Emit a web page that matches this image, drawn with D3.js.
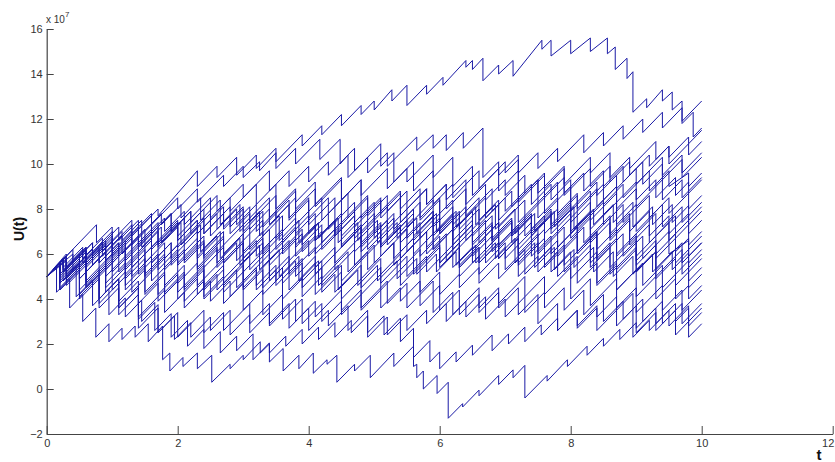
<!doctype html>
<html lang="en">
  <head>
    <meta charset="utf-8">
    <title>U(t) sample paths</title>
    <script src="https://d3js.org/d3.v7.min.js"></script>
    <style>
      body { margin: 0; background: #fff; }
      svg { display: block; font-family: "Liberation Sans", Arial, sans-serif; }
    </style>
  </head>

  <body>
    <svg width="835" height="462"></svg>

    <script>
      // every path starts at U(0) = 5 (x 10^7)
      var startValue = 5;

      // each path: t, value before claim, value after claim, ... (last triple = end point)
      var path01 = [0.4,6.2,5.6, 0.7,6.5,6.0, 1.1,7.2,6.6, 1.4,7.5,7.1, 1.7,8.0,7.7, 2.3,9.7,9.0, 2.6,9.9,9.4, 2.9,10.3,9.5, 3.2,10.4,9.8, 3.5,10.7,10.1, 3.9,11.3,10.8, 4.2,11.7,11.3, 4.5,12.2,11.7, 4.8,12.6,12.2, 5.0,12.8,12.4, 5.27,13.3,12.8, 5.5,13.5,12.6, 5.8,13.5,13.1, 6.05,13.85,13.5, 6.4,14.6,14.3, 6.5,14.6,14.2, 6.66,14.7,13.7, 6.9,14.4,14.0, 7.12,14.6,13.9, 7.56,15.5,15.1, 7.7,15.5,14.8, 8.0,15.5,14.9, 8.3,15.6,15.0, 8.56,15.6,14.9, 8.68,15.2,14.2, 8.86,14.7,13.8, 8.95,14.1,12.3, 9.16,12.9,12.5, 9.4,13.3,12.8, 9.55,13.2,12.4, 9.7,12.8,11.8, 9.87,12.3,11.2, 10.0,11.6,11.6];
      var path02 = [0.3,5.9,5.3, 0.6,6.2,5.8, 1.0,7.0,6.4, 1.3,7.3,6.9, 1.6,7.8,7.3, 2.0,8.5,8.0, 2.3,8.9,8.3, 2.7,9.5,9.0, 3.0,9.9,9.4, 3.25,10.1,9.7, 3.5,10.5,9.8, 3.8,10.7,10.0, 4.17,11.1,10.2, 4.48,11.1,10.0, 4.6,10.4,9.4, 4.9,10.3,9.6, 5.2,10.5,9.9, 5.65,11.2,10.6, 5.9,11.3,10.7, 6.1,11.3,10.6, 6.36,11.4,10.7, 6.66,11.6,9.4, 6.9,10.1,9.5, 7.2,10.4,9.6, 7.5,10.5,9.8, 7.8,10.7,10.1, 8.2,11.3,10.5, 8.5,11.4,10.8, 8.8,11.7,11.1, 9.1,12.0,11.4, 9.4,12.3,11.6, 9.7,12.5,11.9, 10.0,12.8,12.8];
      var path03 = [0.4,6.0,5.2, 0.8,6.3,5.6, 1.1,6.5,5.9, 1.5,7.1,6.6, 1.9,7.8,7.0, 2.2,7.9,7.4, 2.6,8.6,7.9, 3.0,9.1,8.5, 3.4,9.7,8.8, 3.7,9.7,9.0, 4.0,9.9,9.2, 4.3,10.1,9.5, 4.7,10.7,9.7, 5.1,10.9,9.9, 5.3,10.5,9.2, 5.6,10.1,8.8, 5.9,9.7,8.2, 6.2,9.1,8.5, 6.6,9.7,8.9, 7.0,10.1,9.6, 7.2,10.2,8.4, 7.5,9.3,8.7, 7.9,9.9,9.1, 8.3,10.3,9.6, 8.6,10.5,9.4, 8.9,10.3,9.8, 9.3,11.0,10.2, 9.5,10.8,10.0, 9.8,10.9,10.4, 10.0,11.0,11.0];
      var path04 = [0.3,5.8,5.1, 0.6,5.9,5.4, 1.0,6.6,5.8, 1.3,6.7,6.2, 1.7,7.4,6.5, 2.0,7.4,6.8, 2.4,8.0,6.9, 2.7,7.8,7.1, 3.0,8.0,7.3, 3.4,8.5,7.6, 3.8,8.8,8.0, 4.1,8.9,8.2, 4.5,9.4,8.4, 4.8,9.3,8.6, 5.2,9.8,8.9, 5.5,9.8,9.2, 5.9,10.4,9.4, 6.2,10.3,9.0, 6.5,9.9,8.6, 6.9,9.8,8.8, 7.2,9.7,8.3, 7.6,9.5,8.5, 7.9,9.4,8.6, 8.3,9.8,9.0, 8.6,9.9,9.2, 8.9,10.1,9.5, 9.2,10.4,9.9, 9.5,10.8,10.3, 9.8,11.2,10.9, 10.0,11.5,11.5];
      var path05 = [0.3,5.7,5.0, 0.7,6.2,5.5, 1.0,6.4,5.9, 1.4,7.1,6.4, 1.8,7.6,7.0, 2.1,7.9,7.3, 2.5,8.5,7.6, 2.8,8.5,7.9, 3.2,9.1,8.2, 3.5,9.1,8.0, 3.8,8.9,8.3, 4.1,9.2,8.1, 4.5,9.3,8.4, 4.8,9.3,7.6, 5.1,8.5,7.8, 5.4,8.7,7.4, 5.7,8.3,7.5, 6.0,8.4,7.0, 6.3,7.9,7.3, 6.7,8.5,7.6, 7.0,8.5,7.9, 7.4,9.1,8.2, 7.7,9.1,8.4, 8.0,9.3,8.0, 8.4,9.2,8.6, 8.7,9.5,8.9, 9.0,9.8,9.1, 9.4,10.3,9.5, 9.7,10.4,9.6, 10.0,10.5,10.5];
      var path06 = [0.25,5.75,5.2, 0.6,6.25,5.6, 0.9,6.5,5.7, 1.3,6.9,6.1, 1.6,7.0,6.3, 2.0,7.5,6.6, 2.3,7.5,6.9, 2.7,8.1,7.2, 3.0,8.1,7.0, 3.3,7.9,7.2, 3.7,8.4,7.6, 4.0,8.5,7.3, 4.4,8.5,7.0, 4.7,7.9,7.2, 5.1,8.4,7.6, 5.4,8.5,7.7, 5.8,8.9,8.2, 6.1,9.1,8.0, 6.4,8.9,7.7, 6.8,8.9,7.9, 7.1,8.8,8.1, 7.5,9.3,8.3, 7.8,9.2,7.7, 8.1,8.6,7.9, 8.5,9.1,8.2, 8.8,9.1,8.5, 9.2,9.7,8.8, 9.5,9.7,9.0, 9.8,9.6,9.0, 10.0,9.6,9.6];
      var path07 = [0.3,5.9,5.0, 0.6,5.9,4.8, 1.0,6.0,5.2, 1.3,6.1,5.4, 1.7,6.6,5.5, 2.0,6.4,5.6, 2.4,6.8,5.8, 2.7,6.7,6.0, 3.1,7.2,6.2, 3.4,7.1,6.0, 3.8,7.2,6.4, 4.1,7.3,6.6, 4.5,7.8,6.8, 4.8,7.7,6.9, 5.2,8.1,7.1, 5.5,8.0,7.2, 5.9,8.4,7.5, 6.2,8.4,7.3, 6.6,8.5,7.5, 6.9,8.4,7.2, 7.3,8.4,7.6, 7.6,8.5,7.8, 8.0,9.0,7.9, 8.3,8.8,7.8, 8.7,9.0,8.0, 9.0,8.9,8.1, 9.4,9.3,8.4, 9.7,9.3,8.5, 10.0,9.4,9.4];
      var path08 = [0.2,5.6,4.7, 0.5,5.6,4.9, 0.9,6.1,5.3, 1.2,6.2,5.1, 1.6,6.3,5.6, 1.9,6.5,5.8, 2.3,7.0,5.9, 2.6,6.8,6.1, 3.0,7.3,6.6, 3.3,7.5,6.8, 3.6,7.7,6.5, 4.0,7.7,6.9, 4.3,7.8,7.1, 4.7,8.3,7.4, 5.0,8.3,7.6, 5.4,8.8,8.0, 5.7,8.9,7.6, 6.0,8.5,6.9, 6.4,8.1,6.6, 6.7,7.5,6.2, 7.1,7.4,6.5, 7.4,7.4,6.8, 7.8,8.0,7.0, 8.1,7.9,7.1, 8.5,8.3,7.3, 8.8,8.2,7.4, 9.2,8.6,7.6, 9.5,8.5,7.8, 9.8,8.7,8.0, 10.0,8.6,8.6];
      var path09 = [0.3,5.9,4.9, 0.6,5.8,4.6, 1.0,5.8,4.4, 1.3,5.3,4.3, 1.7,5.5,4.2, 2.0,5.1,4.3, 2.4,5.5,4.6, 2.7,5.5,4.9, 3.1,6.1,5.3, 3.4,6.2,5.5, 3.8,6.7,5.9, 4.1,6.8,6.0, 4.5,7.2,6.4, 4.8,7.3,6.3, 5.2,7.5,6.6, 5.5,7.5,6.7, 5.9,7.9,6.8, 6.2,7.7,6.2, 6.6,7.4,6.5, 6.9,7.4,6.4, 7.3,7.6,6.8, 7.6,7.7,6.9, 8.0,8.1,7.0, 8.3,7.9,7.1, 8.7,8.3,7.3, 9.0,8.2,7.0, 9.4,8.2,7.2, 9.7,8.1,7.4, 10.0,8.3,8.3];
      var path10 = [0.2,5.6,5.1, 0.5,6.0,5.4, 0.9,6.6,5.7, 1.2,6.6,5.4, 1.6,6.6,5.6, 1.9,6.5,5.5, 2.3,6.7,5.3, 2.6,6.2,5.4, 3.0,6.6,5.6, 3.3,6.5,5.4, 3.7,6.6,5.7, 4.0,6.6,5.9, 4.4,7.1,6.0, 4.7,6.9,6.1, 5.1,7.3,6.3, 5.4,7.2,5.8, 5.8,7.0,6.0, 6.1,6.9,5.7, 6.5,6.9,5.9, 6.8,6.8,6.1, 7.2,7.3,6.2, 7.5,7.1,6.0, 7.9,7.2,6.3, 8.2,7.2,6.5, 8.6,7.7,6.7, 8.9,7.6,6.6, 9.3,7.8,6.8, 9.6,7.7,6.7, 10.0,7.9,7.9];
      var path11 = [0.2,5.6,4.4, 0.5,5.3,4.0, 0.8,4.9,3.8, 1.1,4.7,3.6, 1.4,4.5,3.2, 1.8,4.4,3.4, 2.1,4.3,3.6, 2.5,4.8,3.9, 2.8,4.8,4.1, 3.2,5.3,4.4, 3.5,5.3,4.6, 3.9,5.8,4.8, 4.2,5.7,4.9, 4.6,6.1,5.2, 4.9,6.1,5.3, 5.3,6.5,5.5, 5.6,6.4,5.1, 6.0,6.3,5.4, 6.3,6.3,5.5, 6.7,6.7,5.6, 7.0,6.5,5.8, 7.4,7.0,5.9, 7.7,6.8,6.0, 8.1,7.2,6.1, 8.4,7.0,5.7, 8.8,6.9,5.9, 9.1,6.8,5.8, 9.5,7.0,6.0, 9.8,6.6,5.9, 10.0,6.5,6.5];
      var path12 = [0.3,6.0,5.4, 0.6,6.3,5.6, 1.0,6.8,6.1, 1.3,7.0,6.4, 1.6,7.3,6.2, 2.0,7.4,6.3, 2.3,7.2,5.8, 2.7,7.0,5.6, 3.0,6.5,5.2, 3.4,6.4,4.8, 3.7,5.7,4.4, 4.1,5.6,4.2, 4.4,5.1,4.3, 4.8,5.5,4.5, 5.1,5.4,4.7, 5.5,5.9,5.0, 5.8,5.9,5.2, 6.2,6.4,5.4, 6.5,6.3,5.6, 6.9,6.8,5.8, 7.2,6.7,5.5, 7.6,6.7,5.4, 7.9,6.3,5.5, 8.3,6.7,5.6, 8.6,6.5,5.4, 9.0,6.6,5.5, 9.3,6.4,5.3, 9.7,6.5,5.6, 10.0,6.5,6.5];
      var path13 = [0.2,5.6,4.9, 0.6,6.1,5.2, 0.9,6.1,5.0, 1.3,6.2,5.0, 1.6,5.9,4.8, 2.0,6.0,4.7, 2.3,5.6,4.6, 2.7,5.8,4.7, 3.0,5.6,4.8, 3.4,6.0,5.0, 3.7,5.9,5.1, 4.1,6.3,5.4, 4.4,6.3,5.6, 4.8,6.8,5.7, 5.1,6.6,5.9, 5.5,7.1,6.1, 5.8,7.0,6.3, 6.2,7.5,6.4, 6.5,7.3,6.2, 6.9,7.4,6.3, 7.2,7.2,5.9, 7.6,7.1,5.5, 7.9,6.4,5.2, 8.3,6.4,5.4, 8.6,6.3,5.1, 9.0,6.3,5.2, 9.3,6.1,5.0, 9.7,6.2,5.1, 10.0,6.0,6.0];
      var path14 = [0.3,5.9,5.3, 0.7,6.5,5.8, 1.0,6.7,6.0, 1.4,7.2,6.3, 1.7,7.2,6.4, 2.1,7.6,6.7, 2.4,7.6,6.9, 2.8,8.1,7.2, 3.1,8.1,7.4, 3.5,8.6,7.6, 3.8,8.5,7.3, 4.2,8.5,7.5, 4.5,8.4,7.4, 4.9,8.6,6.2, 5.2,7.1,6.4, 5.6,7.6,6.6, 5.9,7.5,6.2, 6.3,7.4,5.0, 6.6,5.9,5.1, 7.0,6.3,5.3, 7.3,6.2,5.1, 7.7,6.3,5.2, 8.0,6.1,4.9, 8.4,6.1,4.7, 8.7,5.6,4.4, 9.1,5.6,4.6, 9.4,5.5,4.5, 9.8,5.7,4.8, 10.0,5.4,5.4];
      var path15 = [0.2,5.6,4.4, 0.5,5.3,4.1, 0.8,5.0,3.6, 1.1,4.5,3.3, 1.4,4.2,2.7, 1.7,3.6,2.5, 2.0,3.4,2.3, 2.4,3.5,2.5, 2.7,3.4,2.6, 3.1,3.8,2.9, 3.4,3.8,2.8, 3.8,4.0,3.0, 4.1,3.9,3.2, 4.5,4.4,3.5, 4.8,4.4,3.6, 5.2,4.8,3.8, 5.5,4.7,3.6, 5.9,4.8,3.4, 6.2,4.3,3.3, 6.6,4.5,3.6, 6.9,4.5,3.8, 7.3,5.0,4.1, 7.6,5.0,4.2, 8.0,5.4,4.0, 8.3,4.9,3.7, 8.7,4.9,3.6, 9.0,4.5,3.4, 9.4,4.6,3.5, 9.7,4.4,3.5, 10.0,4.4,4.4];
      var path16 = [0.3,5.9,5.2, 0.6,6.1,5.5, 0.9,6.4,5.4, 1.2,6.3,5.3, 1.5,6.2,5.0, 1.8,5.9,4.6, 2.1,5.5,4.4, 2.4,5.3,4.1, 2.7,5.0,4.3, 3.0,5.2,4.5, 3.3,5.4,4.2, 3.6,5.1,4.0, 3.9,4.9,4.1, 4.2,5.0,4.3, 4.5,5.2,4.0, 4.8,4.9,4.2, 5.1,5.1,4.4, 5.4,5.3,4.6, 5.7,5.5,4.3, 6.0,5.2,4.2, 6.3,5.1,4.5, 6.6,5.4,4.7, 6.9,5.6,4.9, 7.2,5.8,5.0, 7.5,5.9,5.2, 7.8,6.1,5.0, 8.1,5.9,4.7, 8.4,5.6,4.6, 8.7,5.5,4.4, 9.0,5.3,4.1, 9.3,5.0,4.0, 9.6,4.9,4.0, 9.8,4.6,4.0, 10.0,4.6,4.6];
      var path17 = [0.25,5.75,5.3, 0.55,6.2,5.6, 0.85,6.5,5.9, 1.15,6.8,6.0, 1.45,6.9,6.3, 1.75,7.2,6.5, 2.05,7.4,6.4, 2.35,7.3,6.1, 2.65,7.0,5.8, 2.95,6.7,5.5, 3.25,6.4,5.3, 3.55,6.2,5.0, 3.85,5.9,4.8, 4.15,5.7,4.6, 4.45,5.5,4.4, 4.75,5.3,4.6, 5.05,5.5,4.8, 5.35,5.7,4.9, 5.65,5.8,5.1, 5.95,6.0,5.2, 6.25,6.1,5.5, 6.55,6.4,5.6, 6.85,6.5,5.8, 7.15,6.7,5.6, 7.45,6.5,5.4, 7.75,6.3,5.3, 8.05,6.2,5.4, 8.35,6.3,5.2, 8.65,6.1,5.0, 8.95,5.9,5.1, 9.25,6.0,5.2, 9.55,6.1,5.3, 9.8,6.05,5.2, 10.0,5.8,5.8];
      var path18 = [0.2,5.6,5.0, 0.5,5.9,5.3, 0.8,6.2,5.6, 1.1,6.5,5.9, 1.4,6.8,6.1, 1.7,7.0,6.3, 2.0,7.2,6.6, 2.3,7.5,6.9, 2.6,7.8,7.1, 2.9,8.0,7.3, 3.2,8.2,7.0, 3.5,7.9,6.7, 3.8,7.6,6.9, 4.1,7.8,6.6, 4.4,7.5,6.8, 4.7,7.7,6.9, 5.0,7.8,6.7, 5.3,7.6,6.9, 5.6,7.8,7.0, 5.9,7.9,7.2, 6.2,8.1,6.6, 6.5,7.5,6.4, 6.8,7.3,6.6, 7.1,7.5,6.8, 7.4,7.7,7.0, 7.7,7.9,6.9, 8.0,7.8,6.7, 8.3,7.6,6.5, 8.6,7.4,6.6, 8.9,7.5,6.4, 9.2,7.3,6.5, 9.5,7.4,6.6, 9.8,7.5,6.4, 10.0,7.0,7.0];
      var path19 = [0.3,5.9,4.6, 0.6,5.5,4.5, 0.9,5.4,4.7, 1.2,5.6,4.9, 1.5,5.8,5.1, 1.8,6.0,5.3, 2.1,6.2,5.6, 2.4,6.5,5.4, 2.7,6.3,5.6, 3.0,6.5,5.8, 3.3,6.7,6.0, 3.6,6.9,6.2, 3.9,7.1,6.4, 4.2,7.3,6.5, 4.5,7.4,6.3, 4.8,7.2,6.5, 5.1,7.4,6.4, 5.4,7.3,6.1, 5.7,7.0,5.9, 6.0,6.8,5.6, 6.3,6.5,5.4, 6.6,6.3,5.6, 6.9,6.5,5.8, 7.2,6.7,5.6, 7.5,6.5,5.7, 7.8,6.6,5.9, 8.1,6.8,6.0, 8.4,6.9,5.8, 8.7,6.7,5.9, 9.0,6.8,5.7, 9.3,6.6,5.8, 9.6,6.7,5.6, 9.8,6.2,5.6, 10.0,6.2,6.2];
      var path20 = [0.25,5.75,5.4, 0.55,6.3,5.8, 0.85,6.7,6.1, 1.15,7.0,6.6, 1.45,7.5,6.9, 1.75,7.8,7.3, 2.05,8.2,7.6, 2.35,8.5,7.5, 2.65,8.4,7.3, 2.95,8.2,7.0, 3.25,7.9,6.8, 3.55,7.7,6.6, 3.85,7.5,6.5, 4.15,7.4,6.7, 4.45,7.6,6.5, 4.75,7.4,6.6, 5.05,7.5,6.5, 5.35,7.4,6.7, 5.65,7.6,6.9, 5.95,7.8,7.0, 6.25,7.9,7.2, 6.55,8.1,7.3, 6.85,8.2,7.1, 7.15,8.0,6.9, 7.45,7.8,7.0, 7.75,7.9,7.2, 8.05,8.1,7.1, 8.35,8.0,7.3, 8.65,8.2,7.4, 8.95,8.3,7.2, 9.25,8.1,7.3, 9.55,8.2,7.4, 9.8,8.15,7.5, 10.0,8.1,8.1];
      var path21 = [0.2,5.6,4.8, 0.5,5.7,4.9, 0.8,5.8,5.0, 1.1,5.9,5.2, 1.4,6.1,5.1, 1.7,6.0,5.3, 2.0,6.2,5.5, 2.3,6.4,5.4, 2.6,6.3,5.6, 2.9,6.5,5.7, 3.2,6.6,5.9, 3.5,6.8,6.2, 3.8,7.1,6.3, 4.1,7.2,6.6, 4.4,7.5,6.8, 4.7,7.7,6.7, 5.0,7.6,6.9, 5.3,7.8,7.1, 5.6,8.0,6.8, 5.9,7.7,6.9, 6.2,7.8,7.0, 6.5,7.9,6.8, 6.8,7.7,6.6, 7.1,7.5,6.8, 7.4,7.7,6.9, 7.7,7.8,7.1, 8.0,8.0,6.9, 8.3,7.8,6.7, 8.6,7.6,6.9, 8.9,7.8,7.0, 9.2,7.9,6.8, 9.5,7.7,6.9, 9.8,7.8,6.9, 10.0,7.5,7.5];
      var path22 = [0.3,5.9,4.8, 0.6,5.7,4.5, 0.9,5.4,4.3, 1.2,5.2,4.4, 1.5,5.3,4.2, 1.8,5.1,4.3, 2.1,5.2,4.5, 2.4,5.4,4.4, 2.7,5.3,4.6, 3.0,5.5,4.4, 3.3,5.3,4.5, 3.6,5.4,4.7, 3.9,5.6,4.5, 4.2,5.4,4.6, 4.5,5.5,4.8, 4.8,5.7,4.9, 5.1,5.8,5.1, 5.4,6.0,5.3, 5.7,6.2,5.5, 6.0,6.4,5.6, 6.3,6.5,5.4, 6.6,6.3,5.6, 6.9,6.5,5.8, 7.2,6.7,6.0, 7.5,6.9,6.1, 7.8,7.0,6.3, 8.1,7.2,6.1, 8.4,7.0,6.2, 8.7,7.1,6.0, 9.0,6.9,5.9, 9.3,6.8,6.0, 9.6,6.9,6.1, 9.8,6.7,6.2, 10.0,6.8,6.8];
      var path23 = [0.2,5.6,4.5, 0.5,5.4,4.2, 0.8,5.1,4.0, 1.1,4.9,3.9, 1.4,4.8,3.8, 1.7,4.7,3.9, 2.0,4.8,4.0, 2.3,4.9,4.2, 2.6,5.1,4.4, 2.9,5.3,4.5, 3.2,5.4,4.6, 3.5,5.5,4.8, 3.8,5.7,5.0, 4.1,5.9,5.1, 4.4,6.0,5.3, 4.7,6.2,5.5, 5.0,6.4,5.6, 5.3,6.5,5.8, 5.6,6.7,6.0, 5.9,6.9,6.2, 6.2,7.1,6.4, 6.5,7.3,6.5, 6.8,7.4,6.7, 7.1,7.6,6.9, 7.4,7.8,7.1, 7.7,8.0,7.3, 8.0,8.2,7.4, 8.3,8.3,7.5, 8.7,8.7,5.3, 9.0,6.2,5.2, 9.3,6.1,4.9, 9.6,5.8,4.6, 9.8,5.2,4.5, 10.0,5.1,5.1];
      var path24 = [0.3,5.9,5.4, 0.6,6.3,5.5, 0.9,6.4,5.6, 1.2,6.5,5.7, 1.5,6.6,5.6, 1.8,6.5,5.8, 2.1,6.7,5.7, 2.4,6.6,5.9, 2.7,6.8,6.0, 3.0,6.9,6.1, 3.3,7.0,6.2, 3.6,7.1,6.0, 3.9,6.9,6.1, 4.2,7.0,6.2, 4.5,7.1,6.3, 4.8,7.2,6.1, 5.1,7.0,6.3, 5.4,7.2,6.5, 5.7,7.4,6.7, 6.0,7.6,6.9, 6.3,7.8,7.1, 6.6,8.0,7.3, 6.9,8.2,7.5, 7.2,8.4,7.4, 7.5,8.3,7.6, 7.8,8.5,7.8, 8.1,8.7,8.0, 8.4,8.9,8.1, 8.7,9.0,8.3, 9.0,9.2,8.4, 9.3,9.3,8.5, 9.6,9.4,8.6, 9.8,9.2,8.7, 10.0,9.3,9.3];
      var path25 = [0.76,7.3,6.5, 1.0,7.2,6.6, 1.3,7.5,6.8, 1.6,7.7,6.9, 1.9,7.8,7.0, 2.2,7.9,6.9, 2.5,7.8,6.8, 2.8,7.7,6.9, 3.1,7.8,7.1, 3.4,8.0,7.3, 3.7,8.2,7.5, 4.0,8.4,7.6, 4.3,8.5,7.8, 4.6,8.7,7.6, 4.9,8.5,7.7, 5.2,8.6,7.9, 5.5,8.8,8.0, 5.8,8.9,8.2, 6.1,9.1,8.4, 6.4,9.3,8.2, 6.7,9.1,8.4, 7.0,9.3,8.6, 7.3,9.5,8.7, 7.6,9.6,8.9, 7.9,9.8,8.7, 8.2,9.6,8.8, 8.5,9.7,9.0, 8.8,9.9,9.2, 9.1,10.1,9.1, 9.4,10.0,9.3, 9.7,10.2,9.4, 10.0,10.3,10.3];
      var path26 = [0.15,5.45,4.3, 0.35,4.9,3.6, 0.55,4.2,3.0, 0.75,3.6,2.3, 0.95,2.9,2.1, 1.15,2.7,2.2, 1.35,2.8,2.3, 1.55,2.9,2.1, 1.77,2.8,1.3, 1.88,1.6,0.8, 2.08,1.4,1.0, 2.3,1.6,0.9, 2.52,1.5,0.3, 2.8,1.1,0.9, 3.0,1.5,1.3, 3.26,2.1,1.6, 3.4,2.0,1.2, 3.61,1.8,0.8, 3.85,1.5,0.9, 4.07,1.6,0.7, 4.28,1.3,1.1, 4.43,1.5,0.3, 4.7,1.1,0.8, 4.94,1.5,0.5, 5.3,1.6,1.0, 5.6,1.9,1.0, 5.65,1.1,0.5, 5.75,0.8,0.0, 5.96,0.6,-0.2, 6.13,0.3,-1.3, 6.35,-0.65,-0.8, 6.6,-0.05,-0.3, 6.9,0.6,0.2, 7.12,0.85,0.5, 7.3,1.05,-0.4, 7.64,0.6,0.35, 7.95,1.3,1.0, 8.25,1.9,1.5, 8.5,2.25,1.9, 8.75,2.65,2.2, 9.0,2.95,2.5, 9.3,3.4,2.9, 9.6,3.8,3.0, 9.8,3.6,3.0, 10.0,3.6,3.6];
      var path27 = [0.2,5.6,4.7, 0.45,5.45,4.1, 0.7,4.85,3.7, 0.95,4.45,3.3, 1.2,4.05,3.2, 1.45,3.95,3.0, 1.7,3.75,2.5, 1.95,3.25,2.2, 2.2,2.95,2.3, 2.5,3.2,2.6, 2.8,3.5,2.4, 3.1,3.3,2.5, 3.4,3.4,2.9, 3.7,3.8,2.7, 4.0,3.6,2.6, 4.3,3.5,2.8, 4.6,3.7,2.6, 4.9,3.5,2.5, 5.15,3.25,2.4, 5.4,3.15,2.1, 5.6,2.7,1.4, 5.85,2.15,1.2, 6.0,1.65,0.9, 6.25,1.65,1.2, 6.5,1.95,1.5, 6.8,2.4,1.7, 7.05,2.45,2.0, 7.3,2.75,2.1, 7.55,2.85,2.4, 7.8,3.15,2.6, 8.1,3.5,2.8, 8.4,3.7,3.2, 8.7,4.1,3.5, 8.95,4.25,2.3, 9.2,3.05,2.6, 9.5,3.5,2.8, 9.8,3.7,2.8, 10.0,3.4,3.4];
      var path28 = [0.3,5.9,5.0, 0.6,5.9,4.7, 0.9,5.6,4.5, 1.2,5.4,4.6, 1.5,5.5,4.3, 1.8,5.2,4.2, 2.1,5.1,3.9, 2.4,4.8,4.0, 2.7,4.9,3.8, 3.0,4.7,3.5, 3.3,4.4,3.3, 3.6,4.2,3.1, 3.9,4.0,2.9, 4.2,3.8,3.0, 4.5,3.9,3.3, 4.8,4.2,3.5, 5.1,4.4,3.6, 5.4,4.5,3.9, 5.7,4.8,3.7, 6.0,4.6,3.5, 6.3,4.4,3.3, 6.6,4.2,3.4, 6.9,4.3,3.6, 7.2,4.5,3.3, 7.5,4.2,2.9, 7.8,3.8,2.6, 8.1,3.5,2.7, 8.4,3.6,2.6, 8.7,3.5,2.8, 9.0,3.7,2.7, 9.3,3.6,2.6, 9.6,3.5,2.4, 9.8,3.0,2.3, 10.0,2.9,2.9];
      var path29 = [0.25,5.75,4.8, 0.5,5.55,4.4, 0.8,5.3,4.0, 1.1,4.9,3.6, 1.4,4.5,3.1, 1.65,3.85,2.6, 1.9,3.35,2.3, 2.15,3.05,1.9, 2.4,2.65,1.8, 2.65,2.55,1.6, 2.9,2.35,1.7, 3.15,2.45,1.3, 3.4,2.05,1.6, 3.65,2.35,1.9, 3.9,2.65,2.0, 4.15,2.75,2.2, 4.4,2.95,2.3, 4.65,3.05,2.5, 4.9,3.25,2.3, 5.2,3.2,2.4, 5.5,3.3,2.6, 5.8,3.5,2.9, 6.1,3.8,3.0, 6.4,3.9,3.2, 6.7,4.1,3.1, 7.0,4.0,3.2, 7.3,4.1,3.4, 7.6,4.3,3.6, 7.9,4.5,3.5, 8.2,4.4,3.3, 8.5,4.2,3.0, 8.8,3.9,3.1, 9.1,4.0,3.0, 9.4,3.9,2.9, 9.7,3.8,2.9, 10.0,3.8,3.8];

      var paths = [path01, path02, path03, path04, path05, path06, path07, path08, path09, path10,
                   path11, path12, path13, path14, path15, path16, path17, path18, path19, path20,
                   path21, path22, path23, path24, path25, path26, path27, path28, path29];

      var xTicks = [0, 2, 4, 6, 8, 10, 12];
      var yTicks = [-2, 0, 2, 4, 6, 8, 10, 12, 14, 16];

      var svg = d3.select('svg');

      var x = d3.scaleLinear().domain([0, 12]).range([46.7, 832.7]);
      var y = d3.scaleLinear().domain([-2, 16]).range([434, 29]);

      // turn the (t, before, after) triples into vertices with vertical claim drops
      var toVertices = function(arr){
        var pts = [[0, startValue]];
        for (var i = 0; i < arr.length; i += 3) {
          pts.push([arr[i], arr[i + 1]]);
          pts.push([arr[i], arr[i + 2]]);
        }
        return pts;
      };

      var line = d3.line()
          .x(function(d){ return x(d[0]); })
          .y(function(d){ return y(d[1]); });

      svg.append('g')
        .selectAll('path')
        .data(paths)
        .enter()
        .append('path')
          .attr('d', function(d){ return line(toVertices(d)); })
          .attr('fill', 'none')
          .attr('stroke', '#1a1aa6')
          .attr('stroke-width', 1)
          .attr('stroke-linejoin', 'round');

      // MATLAB style axes, ticks pointing inward
      var xAxis = svg.append('g')
          .attr('transform', 'translate(0,434)')
          .call(d3.axisBottom(x).tickValues(xTicks).tickSizeInner(-8).tickSizeOuter(0).tickPadding(5));

      var yAxis = svg.append('g')
          .attr('transform', 'translate(46.7,0)')
          .call(d3.axisLeft(y).tickValues(yTicks).tickSizeInner(-7).tickSizeOuter(0).tickPadding(4));

      [xAxis, yAxis].forEach(function(ax){
        ax.select('.domain').attr('stroke', '#444').attr('stroke-width', 1.2);
        ax.selectAll('.tick line').attr('stroke', '#444');
        ax.selectAll('.tick text')
          .attr('fill', '#333')
          .style('font-size', '11px')
          .style('font-family', '"Liberation Sans", Arial, sans-serif');
      });

      // last x label sits at the window edge; nudge it in so it stays readable
      xAxis.selectAll('.tick text').filter(function(d){ return d === 12; }).attr('dx', -5);

      // exponent label
      var expo = svg.append('text')
          .attr('x', 46)
          .attr('y', 23)
          .attr('fill', '#333')
          .style('font-size', '10px');
      expo.append('tspan').text('x 10');
      expo.append('tspan').attr('dy', -6).style('font-size', '8px').text('7');

      svg.append('text')
          .attr('transform', 'translate(24,229) rotate(-90)')
          .attr('text-anchor', 'middle')
          .attr('fill', '#111')
          .style('font-size', '14px')
          .style('font-weight', 'bold')
          .text('U(t)');

      svg.append('text')
          .attr('x', 819)
          .attr('y', 460)
          .attr('text-anchor', 'middle')
          .attr('fill', '#111')
          .style('font-size', '15px')
          .style('font-weight', 'bold')
          .text('t');
    </script>
  </body>
</html>
